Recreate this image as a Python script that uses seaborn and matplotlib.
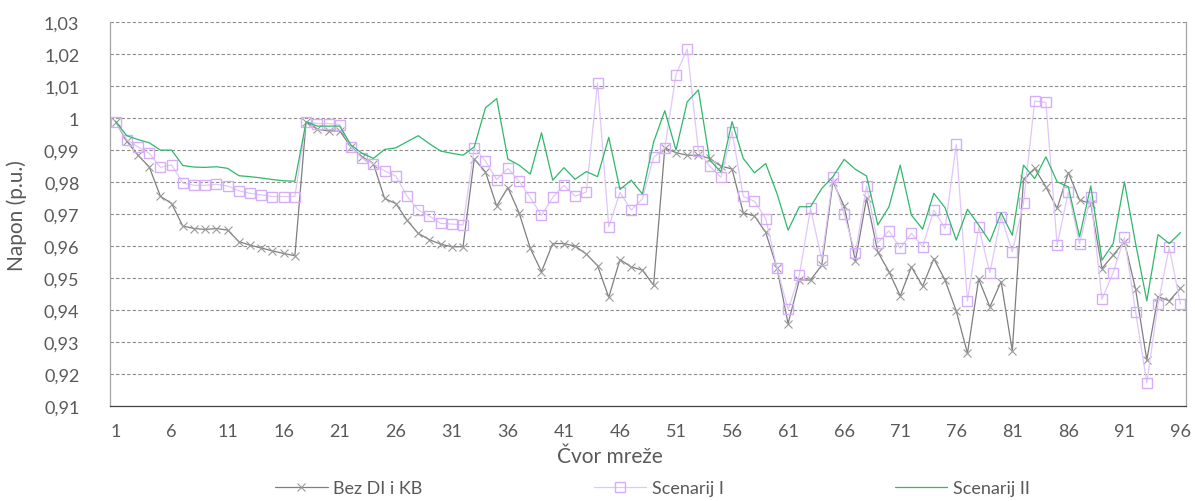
import matplotlib
matplotlib.use("Agg")
import matplotlib.pyplot as plt
import seaborn as sns
import pandas as pd
import numpy as np

nodes = list(range(1, 97))

bez_di_kb = [
    0.9989, 0.9928, 0.9884, 0.9848, 0.9756, 0.9733, 0.9663, 0.9655, 0.9652, 0.9655,
    0.9650, 0.9614, 0.9603, 0.9594, 0.9585, 0.9577, 0.9570, 0.9989, 0.9965, 0.9960,
    0.9960, 0.9910, 0.9879, 0.9858, 0.9749, 0.9733, 0.9681, 0.9640, 0.9620, 0.9606,
    0.9598, 0.9598, 0.9872, 0.9832, 0.9725, 0.9783, 0.9704, 0.9593, 0.9520, 0.9608,
    0.9608, 0.9600, 0.9575, 0.9539, 0.9440, 0.9558, 0.9535, 0.9525, 0.9478, 0.9907,
    0.9892, 0.9884, 0.9884, 0.9874, 0.9850, 0.9841, 0.9704, 0.9694, 0.9643, 0.9533,
    0.9358, 0.9494, 0.9494, 0.9540, 0.9801, 0.9725, 0.9554, 0.9749, 0.9582, 0.9520,
    0.9444, 0.9535, 0.9475, 0.9561, 0.9494, 0.9397, 0.9265, 0.9497, 0.9410, 0.9489,
    0.9273, 0.9809, 0.9843, 0.9785, 0.9718, 0.9830, 0.9744, 0.9733, 0.9530, 0.9572,
    0.9614, 0.9465, 0.9244, 0.9442, 0.9429, 0.9468,
]

scenarij_1 = [
    0.9989, 0.9933, 0.9910, 0.9890, 0.9846, 0.9854, 0.9797, 0.9790, 0.9790, 0.9793,
    0.9788, 0.9773, 0.9765, 0.9760, 0.9755, 0.9755, 0.9755, 0.9989, 0.9983, 0.9983,
    0.9980, 0.9910, 0.9874, 0.9858, 0.9835, 0.9819, 0.9756, 0.9713, 0.9694, 0.9671,
    0.9669, 0.9666, 0.9907, 0.9866, 0.9808, 0.9843, 0.9803, 0.9752, 0.9696, 0.9752,
    0.9790, 0.9756, 0.9769, 1.0110, 0.9660, 0.9768, 0.9713, 0.9748, 0.9877, 0.9907,
    1.0136, 1.0216, 0.9898, 0.9850, 0.9815, 0.9957, 0.9756, 0.9740, 0.9686, 0.9533,
    0.9402, 0.9509, 0.9718, 0.9558, 0.9815, 0.9699, 0.9577, 0.9788, 0.9610, 0.9648,
    0.9593, 0.9640, 0.9598, 0.9713, 0.9655, 0.9918, 0.9428, 0.9660, 0.9517, 0.9692,
    0.9582, 0.9735, 1.0053, 1.0049, 0.9603, 0.9770, 0.9608, 0.9754, 0.9434, 0.9517,
    0.9627, 0.9395, 0.9173, 0.9418, 0.9596, 0.9419,
]

scenarij_2 = [
    0.9990, 0.9945, 0.9933, 0.9923, 0.9900, 0.9900, 0.9852, 0.9847, 0.9846, 0.9848,
    0.9843, 0.9820, 0.9817, 0.9813, 0.9808, 0.9804, 0.9803, 0.9989, 0.9975, 0.9975,
    0.9975, 0.9916, 0.9890, 0.9874, 0.9902, 0.9907, 0.9926, 0.9945, 0.9920, 0.9897,
    0.9890, 0.9884, 0.9910, 1.0032, 1.0061, 0.9872, 0.9853, 0.9825, 0.9954, 0.9806,
    0.9845, 0.9809, 0.9833, 0.9817, 0.9940, 0.9777, 0.9806, 0.9763, 0.9925, 1.0023,
    0.9900, 1.0051, 1.0088, 0.9869, 0.9832, 0.9989, 0.9874, 0.9829, 0.9858, 0.9765,
    0.9650, 0.9723, 0.9723, 0.9780, 0.9817, 0.9871, 0.9840, 0.9819, 0.9666, 0.9723,
    0.9853, 0.9697, 0.9653, 0.9765, 0.9720, 0.9619, 0.9715, 0.9666, 0.9614, 0.9704,
    0.9634, 0.9853, 0.9811, 0.9879, 0.9801, 0.9785, 0.9629, 0.9788, 0.9556, 0.9608,
    0.9801, 0.9608, 0.9429, 0.9636, 0.9608, 0.9642,
]

series_names = ["Bez DI i KB", "Scenarij I", "Scenarij II"]
x_tick_values = list(range(1, 97, 5))
y_tick_values = [0.91, 0.92, 0.93, 0.94, 0.95, 0.96, 0.97, 0.98, 0.99, 1.00, 1.01, 1.02, 1.03]
y_tick_labels = ["0,91", "0,92", "0,93", "0,94", "0,95", "0,96", "0,97", "0,98", "0,99", "1", "1,01", "1,02", "1,03"]

df = pd.DataFrame({
    "node": nodes * 3,
    "value": bez_di_kb + scenarij_1 + scenarij_2,
    "series": [series_names[0]] * 96 + [series_names[1]] * 96 + [series_names[2]] * 96,
})

sns.set_theme(style="white")
plt.rcParams["font.family"] = ["Lato", "DejaVu Sans"]

fig = plt.figure(figsize=(11.95, 5.02), dpi=100)
ax = fig.add_axes([0.092, 0.189, 0.9005, 0.765])

gray_c = "#7F7F7F"
purple_c = "#E2C6FB"
purple_m = "#D6AEF7"
green_c = "#2EB86A"

sns.lineplot(data=df[df.series == series_names[0]], x="node", y="value", ax=ax,
             color=gray_c, lw=0.9, marker="x", markersize=5.5, markeredgewidth=0.8,
             markeredgecolor="#9A9A9A", label=series_names[0])
sns.lineplot(data=df[df.series == series_names[1]], x="node", y="value", ax=ax,
             color=purple_c, lw=0.9, marker="s", markersize=6.5, markeredgewidth=1.0,
             markerfacecolor="none", markeredgecolor=purple_m, label=series_names[1])
sns.lineplot(data=df[df.series == series_names[2]], x="node", y="value", ax=ax,
             color=green_c, lw=0.9, label=series_names[2])

ax.set_xlim(0.5, 96.5)
ax.set_ylim(0.91, 1.03)
ax.set_xticks(x_tick_values)
ax.set_xticklabels([str(v) for v in x_tick_values])
ax.set_yticks(y_tick_values)
ax.set_yticklabels(y_tick_labels)
ax.tick_params(axis="both", length=0, labelsize=13, colors="#595959")
ax.tick_params(axis="x", pad=12)
ax.tick_params(axis="y", pad=22)

for y in y_tick_values[1:]:
    ax.axhline(y, color="#8C8C8C", lw=0.8, ls=(0, (3, 2)), zorder=0)

ax.spines["top"].set_visible(False)
ax.spines["left"].set_color("#A6A6A6")
ax.spines["right"].set_color("#A6A6A6")
ax.spines["bottom"].set_color("#404040")
for s in ax.spines.values():
    s.set_linewidth(0.9)

ax.set_xlabel("Čvor mreže", fontsize=15, color="#595959", labelpad=4)
ax.xaxis.set_label_coords(0.465, -0.105)
ax.set_ylabel("Napon (p.u.)", fontsize=15, color="#595959", labelpad=12)

ax.legend(loc="center", bbox_to_anchor=(0.546, 0.026), bbox_transform=fig.transFigure,
          ncol=3, frameon=False, fontsize=13, handlelength=2.9, columnspacing=9.5,
          handletextpad=0.3, labelcolor="#595959")

fig.savefig("out.png", dpi=100)
